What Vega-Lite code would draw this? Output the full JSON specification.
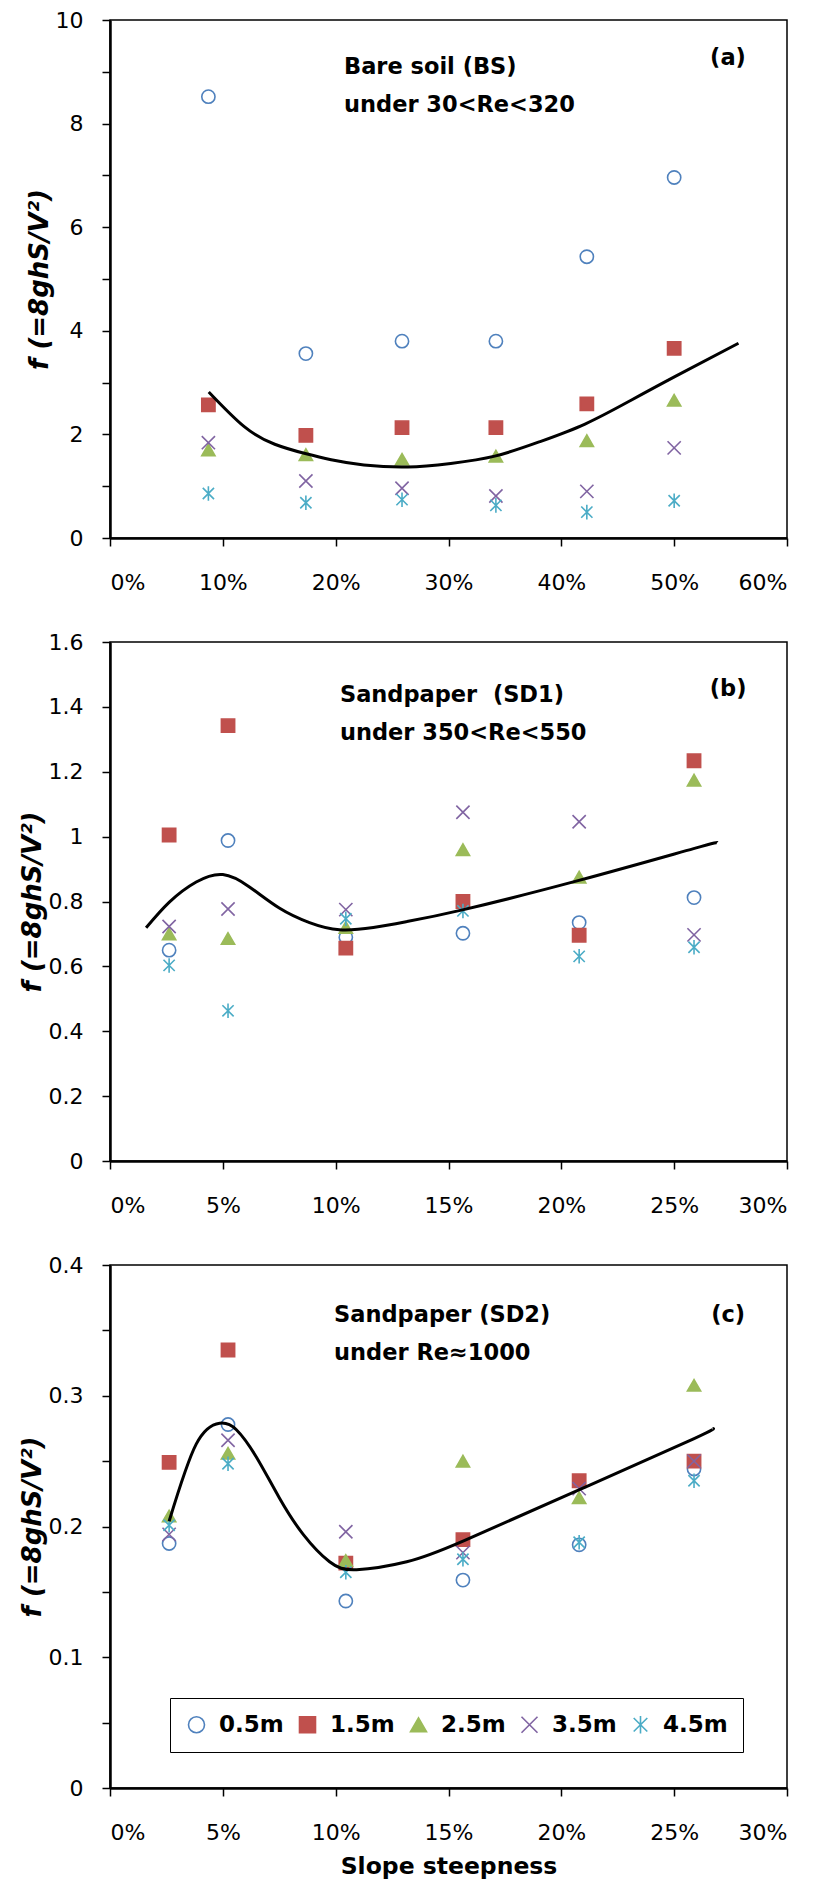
{
  "$schema": "https://vega.github.io/schema/vega-lite/v6.json",
  "background": "white",
  "padding": {"left": 18, "top": 8, "right": 2, "bottom": 4},
  "bounds": "flush",
  "spacing": 104,
  "config": {
    "font": "DejaVu Sans",
    "view": {"stroke": "black", "strokeWidth": 1.5},
    "axis": {
      "domainColor": "black", "domainWidth": 2.5, "tickColor": "black", "tickWidth": 1.5, "tickSize": 8,
      "labelFont": "DejaVu Sans", "labelFontSize": 22, "labelColor": "black", "grid": false,
      "titleFont": "DejaVu Sans", "titleFontSize": 23.5, "titleColor": "black", "titleFontWeight": "bold"
    },
    "axisX": {"labelPadding": 26},
    "axisY": {"labelPadding": 19, "titlePadding": 3, "titleFontStyle": "italic", "titleFontSize": 26},
    "text": {"font": "DejaVu Sans", "fontSize": 22.5, "fontWeight": "bold", "color": "black", "baseline": "middle"}
  },
  "resolve": {"scale": {"x": "independent", "y": "independent", "shape": "independent", "stroke": "independent", "fill": "independent"}, "legend": {"shape": "independent", "stroke": "independent", "fill": "independent"}},
  "datasets": {
    "pts": [
      {"panel":"a","series":"0.5m","slope":0.0872,"f":8.52},{"panel":"a","series":"1.5m","slope":0.0872,"f":2.57},{"panel":"a","series":"2.5m","slope":0.0872,"f":1.70},{"panel":"a","series":"3.5m","slope":0.0872,"f":1.84},{"panel":"a","series":"4.5m","slope":0.0872,"f":0.86},
      {"panel":"a","series":"0.5m","slope":0.1736,"f":3.56},{"panel":"a","series":"1.5m","slope":0.1736,"f":1.98},{"panel":"a","series":"2.5m","slope":0.1736,"f":1.61},{"panel":"a","series":"3.5m","slope":0.1736,"f":1.10},{"panel":"a","series":"4.5m","slope":0.1736,"f":0.68},
      {"panel":"a","series":"0.5m","slope":0.2588,"f":3.80},{"panel":"a","series":"1.5m","slope":0.2588,"f":2.13},{"panel":"a","series":"2.5m","slope":0.2588,"f":1.52},{"panel":"a","series":"3.5m","slope":0.2588,"f":0.96},{"panel":"a","series":"4.5m","slope":0.2588,"f":0.74},
      {"panel":"a","series":"0.5m","slope":0.342,"f":3.80},{"panel":"a","series":"1.5m","slope":0.342,"f":2.13},{"panel":"a","series":"2.5m","slope":0.342,"f":1.58},{"panel":"a","series":"3.5m","slope":0.342,"f":0.81},{"panel":"a","series":"4.5m","slope":0.342,"f":0.63},
      {"panel":"a","series":"0.5m","slope":0.4226,"f":5.43},{"panel":"a","series":"1.5m","slope":0.4226,"f":2.59},{"panel":"a","series":"2.5m","slope":0.4226,"f":1.88},{"panel":"a","series":"3.5m","slope":0.4226,"f":0.90},{"panel":"a","series":"4.5m","slope":0.4226,"f":0.50},
      {"panel":"a","series":"0.5m","slope":0.5,"f":6.96},{"panel":"a","series":"1.5m","slope":0.5,"f":3.66},{"panel":"a","series":"2.5m","slope":0.5,"f":2.66},{"panel":"a","series":"3.5m","slope":0.5,"f":1.74},{"panel":"a","series":"4.5m","slope":0.5,"f":0.72},
      {"panel":"b","series":"0.5m","slope":0.0262,"f":0.65},{"panel":"b","series":"1.5m","slope":0.0262,"f":1.005},{"panel":"b","series":"2.5m","slope":0.0262,"f":0.70},{"panel":"b","series":"3.5m","slope":0.0262,"f":0.723},{"panel":"b","series":"4.5m","slope":0.0262,"f":0.603},
      {"panel":"b","series":"0.5m","slope":0.0523,"f":0.988},{"panel":"b","series":"1.5m","slope":0.0523,"f":1.342},{"panel":"b","series":"2.5m","slope":0.0523,"f":0.686},{"panel":"b","series":"3.5m","slope":0.0523,"f":0.777},{"panel":"b","series":"4.5m","slope":0.0523,"f":0.463},
      {"panel":"b","series":"0.5m","slope":0.1045,"f":0.69},{"panel":"b","series":"1.5m","slope":0.1045,"f":0.656},{"panel":"b","series":"2.5m","slope":0.1045,"f":0.72},{"panel":"b","series":"3.5m","slope":0.1045,"f":0.775},{"panel":"b","series":"4.5m","slope":0.1045,"f":0.747},
      {"panel":"b","series":"0.5m","slope":0.1564,"f":0.702},{"panel":"b","series":"1.5m","slope":0.1564,"f":0.80},{"panel":"b","series":"2.5m","slope":0.1564,"f":0.96},{"panel":"b","series":"3.5m","slope":0.1564,"f":1.075},{"panel":"b","series":"4.5m","slope":0.1564,"f":0.771},
      {"panel":"b","series":"0.5m","slope":0.2079,"f":0.735},{"panel":"b","series":"1.5m","slope":0.2079,"f":0.696},{"panel":"b","series":"2.5m","slope":0.2079,"f":0.875},{"panel":"b","series":"3.5m","slope":0.2079,"f":1.046},{"panel":"b","series":"4.5m","slope":0.2079,"f":0.631},
      {"panel":"b","series":"0.5m","slope":0.2588,"f":0.812},{"panel":"b","series":"1.5m","slope":0.2588,"f":1.234},{"panel":"b","series":"2.5m","slope":0.2588,"f":1.174},{"panel":"b","series":"3.5m","slope":0.2588,"f":0.697},{"panel":"b","series":"4.5m","slope":0.2588,"f":0.659},
      {"panel":"c","series":"0.5m","slope":0.0262,"f":0.187},{"panel":"c","series":"1.5m","slope":0.0262,"f":0.249},{"panel":"c","series":"2.5m","slope":0.0262,"f":0.208},{"panel":"c","series":"3.5m","slope":0.0262,"f":0.194},{"panel":"c","series":"4.5m","slope":0.0262,"f":0.201},
      {"panel":"c","series":"0.5m","slope":0.0523,"f":0.278},{"panel":"c","series":"1.5m","slope":0.0523,"f":0.335},{"panel":"c","series":"2.5m","slope":0.0523,"f":0.256},{"panel":"c","series":"3.5m","slope":0.0523,"f":0.266},{"panel":"c","series":"4.5m","slope":0.0523,"f":0.248},
      {"panel":"c","series":"0.5m","slope":0.1045,"f":0.143},{"panel":"c","series":"1.5m","slope":0.1045,"f":0.172},{"panel":"c","series":"2.5m","slope":0.1045,"f":0.174},{"panel":"c","series":"3.5m","slope":0.1045,"f":0.196},{"panel":"c","series":"4.5m","slope":0.1045,"f":0.165},
      {"panel":"c","series":"0.5m","slope":0.1564,"f":0.159},{"panel":"c","series":"1.5m","slope":0.1564,"f":0.190},{"panel":"c","series":"2.5m","slope":0.1564,"f":0.250},{"panel":"c","series":"3.5m","slope":0.1564,"f":0.180},{"panel":"c","series":"4.5m","slope":0.1564,"f":0.175},
      {"panel":"c","series":"0.5m","slope":0.2079,"f":0.186},{"panel":"c","series":"1.5m","slope":0.2079,"f":0.235},{"panel":"c","series":"2.5m","slope":0.2079,"f":0.222},{"panel":"c","series":"3.5m","slope":0.2079,"f":0.229},{"panel":"c","series":"4.5m","slope":0.2079,"f":0.188},
      {"panel":"c","series":"0.5m","slope":0.2588,"f":0.244},{"panel":"c","series":"1.5m","slope":0.2588,"f":0.250},{"panel":"c","series":"2.5m","slope":0.2588,"f":0.308},{"panel":"c","series":"3.5m","slope":0.2588,"f":0.250},{"panel":"c","series":"4.5m","slope":0.2588,"f":0.235}
    ],
    "fit": [
      {"panel":"a","slope":0.0875,"f":2.82},{"panel":"a","slope":0.119,"f":2.15},{"panel":"a","slope":0.146,"f":1.81},{"panel":"a","slope":0.173,"f":1.63},{"panel":"a","slope":0.196,"f":1.51},{"panel":"a","slope":0.225,"f":1.41},{"panel":"a","slope":0.264,"f":1.37},{"panel":"a","slope":0.302,"f":1.44},{"panel":"a","slope":0.341,"f":1.58},{"panel":"a","slope":0.381,"f":1.86},{"panel":"a","slope":0.421,"f":2.20},{"panel":"a","slope":0.461,"f":2.65},{"panel":"a","slope":0.501,"f":3.12},{"panel":"a","slope":0.557,"f":3.76},
      {"panel":"b","slope":0.016,"f":0.719},{"panel":"b","slope":0.0263,"f":0.798},{"panel":"b","slope":0.0382,"f":0.86},{"panel":"b","slope":0.050,"f":0.883},{"panel":"b","slope":0.0618,"f":0.845},{"panel":"b","slope":0.075,"f":0.78},{"panel":"b","slope":0.0884,"f":0.735},{"panel":"b","slope":0.1017,"f":0.713},{"panel":"b","slope":0.1167,"f":0.72},{"panel":"b","slope":0.1315,"f":0.738},{"panel":"b","slope":0.1567,"f":0.775},{"panel":"b","slope":0.2078,"f":0.865},{"panel":"b","slope":0.2586,"f":0.963},{"panel":"b","slope":0.2692,"f":0.982},
      {"panel":"c","slope":0.0262,"f":0.204},{"panel":"c","slope":0.0382,"f":0.263},{"panel":"c","slope":0.0486,"f":0.279},{"panel":"c","slope":0.056,"f":0.274},{"panel":"c","slope":0.0649,"f":0.253},{"panel":"c","slope":0.075,"f":0.222},{"panel":"c","slope":0.0856,"f":0.194},{"panel":"c","slope":0.0973,"f":0.173},{"panel":"c","slope":0.1093,"f":0.167},{"panel":"c","slope":0.1315,"f":0.173},{"panel":"c","slope":0.1567,"f":0.189},{"panel":"c","slope":0.2078,"f":0.228},{"panel":"c","slope":0.2586,"f":0.267},{"panel":"c","slope":0.267,"f":0.275}
    ],
    "notes": [
      {"panel":"a","slope":0.2074,"f":9.093,"label":"Bare soil (BS)","pos":"left"},
      {"panel":"a","slope":0.2074,"f":8.359,"label":"under 30<Re<320","pos":"left"},
      {"panel":"a","slope":0.5477,"f":9.266,"label":"(a)","pos":"center"},
      {"panel":"b","slope":0.1019,"f":1.437,"label":"Sandpaper\u00a0 (SD1)","pos":"left"},
      {"panel":"b","slope":0.1019,"f":1.3195,"label":"under 350<Re<550","pos":"left"},
      {"panel":"b","slope":0.2739,"f":1.455,"label":"(b)","pos":"center"},
      {"panel":"c","slope":0.0993,"f":0.3615,"label":"Sandpaper (SD2)","pos":"left"},
      {"panel":"c","slope":0.0993,"f":0.3325,"label":"under Re≈1000","pos":"left"},
      {"panel":"c","slope":0.2739,"f":0.3618,"label":"(c)","pos":"center"}
    ]
  },
  "vconcat": [
    {
      "width": 677, "height": 518,
      "layer": [
        {
          "data": {"name": "pts"},
          "transform": [{"filter": "datum.panel == 'a'"}],
          "mark": {"type": "point", "size": 175, "strokeWidth": 1.6, "opacity": 1},
          "encoding": {
            "x": {"field": "slope", "type": "quantitative", "scale": {"domain": [0, 0.6], "nice": false}, "axis": {"values": [0, 0.1, 0.2, 0.3, 0.4, 0.5, 0.6], "format": ".0%", "title": null}},
            "y": {"field": "f", "type": "quantitative", "scale": {"domain": [0, 10], "nice": false}, "axis": {"values": [0, 1, 2, 3, 4, 5, 6, 7, 8, 9, 10], "labelExpr": "datum.value % 2 == 0 ? datum.label : ''", "title": "f (=8ghS/V²)"}},
            "shape": {"field": "series", "type": "nominal", "scale": {"domain": ["0.5m", "1.5m", "2.5m", "3.5m", "4.5m"], "range": ["circle", "square", "triangle-up", "M-1,-1L1,1M-1,1L1,-1", "M-0.85,-0.85L0.85,0.85M-0.85,0.85L0.85,-0.85M0,-1.1L0,1.1"]}, "legend": null},
            "stroke": {"field": "series", "type": "nominal", "scale": {"domain": ["0.5m", "1.5m", "2.5m", "3.5m", "4.5m"], "range": ["#4F81BD", "#C0504D", "#9BBB59", "#8064A2", "#4BACC6"]}, "legend": null},
            "fill": {"field": "series", "type": "nominal", "scale": {"domain": ["0.5m", "1.5m", "2.5m", "3.5m", "4.5m"], "range": ["transparent", "#C0504D", "#9BBB59", "transparent", "transparent"]}, "legend": null}
          }
        },
        {
          "data": {"name": "fit"},
          "transform": [{"filter": "datum.panel == 'a'"}],
          "mark": {"type": "line", "color": "black", "strokeWidth": 3, "interpolate": "natural"},
          "encoding": {"x": {"field": "slope", "type": "quantitative"}, "y": {"field": "f", "type": "quantitative"}}
        },
        {
          "data": {"name": "notes"},
          "transform": [{"filter": "datum.panel == 'a' && datum.pos == 'left'"}],
          "mark": {"type": "text", "align": "left"},
          "encoding": {"x": {"field": "slope", "type": "quantitative"}, "y": {"field": "f", "type": "quantitative"}, "text": {"field": "label"}}
        },
        {
          "data": {"name": "notes"},
          "transform": [{"filter": "datum.panel == 'a' && datum.pos == 'center'"}],
          "mark": {"type": "text", "align": "center"},
          "encoding": {"x": {"field": "slope", "type": "quantitative"}, "y": {"field": "f", "type": "quantitative"}, "text": {"field": "label"}}
        }
      ]
    },
    {
      "width": 677, "height": 519,
      "layer": [
        {
          "data": {"name": "pts"},
          "transform": [{"filter": "datum.panel == 'b'"}],
          "mark": {"type": "point", "size": 175, "strokeWidth": 1.6, "opacity": 1},
          "encoding": {
            "x": {"field": "slope", "type": "quantitative", "scale": {"domain": [0, 0.3], "nice": false}, "axis": {"values": [0, 0.05, 0.1, 0.15, 0.2, 0.25, 0.3], "format": ".0%", "title": null}},
            "y": {"field": "f", "type": "quantitative", "scale": {"domain": [0, 1.6], "nice": false}, "axis": {"values": [0, 0.2, 0.4, 0.6, 0.8, 1, 1.2, 1.4, 1.6], "format": ".1~f", "title": "f (=8ghS/V²)"}},
            "shape": {"field": "series", "type": "nominal", "scale": {"domain": ["0.5m", "1.5m", "2.5m", "3.5m", "4.5m"], "range": ["circle", "square", "triangle-up", "M-1,-1L1,1M-1,1L1,-1", "M-0.85,-0.85L0.85,0.85M-0.85,0.85L0.85,-0.85M0,-1.1L0,1.1"]}, "legend": null},
            "stroke": {"field": "series", "type": "nominal", "scale": {"domain": ["0.5m", "1.5m", "2.5m", "3.5m", "4.5m"], "range": ["#4F81BD", "#C0504D", "#9BBB59", "#8064A2", "#4BACC6"]}, "legend": null},
            "fill": {"field": "series", "type": "nominal", "scale": {"domain": ["0.5m", "1.5m", "2.5m", "3.5m", "4.5m"], "range": ["transparent", "#C0504D", "#9BBB59", "transparent", "transparent"]}, "legend": null}
          }
        },
        {
          "data": {"name": "fit"},
          "transform": [{"filter": "datum.panel == 'b'"}],
          "mark": {"type": "line", "color": "black", "strokeWidth": 3, "interpolate": "natural"},
          "encoding": {"x": {"field": "slope", "type": "quantitative"}, "y": {"field": "f", "type": "quantitative"}}
        },
        {
          "data": {"name": "notes"},
          "transform": [{"filter": "datum.panel == 'b' && datum.pos == 'left'"}],
          "mark": {"type": "text", "align": "left"},
          "encoding": {"x": {"field": "slope", "type": "quantitative"}, "y": {"field": "f", "type": "quantitative"}, "text": {"field": "label"}}
        },
        {
          "data": {"name": "notes"},
          "transform": [{"filter": "datum.panel == 'b' && datum.pos == 'center'"}],
          "mark": {"type": "text", "align": "center"},
          "encoding": {"x": {"field": "slope", "type": "quantitative"}, "y": {"field": "f", "type": "quantitative"}, "text": {"field": "label"}}
        }
      ]
    },
    {
      "width": 677, "height": 523,
      "layer": [
        {
          "data": {"name": "pts"},
          "transform": [{"filter": "datum.panel == 'c'"}],
          "mark": {"type": "point", "size": 175, "strokeWidth": 1.6, "opacity": 1},
          "encoding": {
            "x": {"field": "slope", "type": "quantitative", "scale": {"domain": [0, 0.3], "nice": false}, "axis": {"values": [0, 0.05, 0.1, 0.15, 0.2, 0.25, 0.3], "format": ".0%", "title": "Slope steepness", "titleFontStyle": "normal", "titlePadding": 11}},
            "y": {"field": "f", "type": "quantitative", "scale": {"domain": [0, 0.4], "nice": false}, "axis": {"values": [0, 0.05, 0.1, 0.15, 0.2, 0.25, 0.3, 0.35, 0.4], "format": ".1~f", "labelExpr": "round(datum.value * 100) % 10 == 0 ? datum.label : ''", "title": "f (=8ghS/V²)"}},
            "shape": {"field": "series", "type": "nominal", "scale": {"domain": ["0.5m", "1.5m", "2.5m", "3.5m", "4.5m"], "range": ["circle", "square", "triangle-up", "M-1,-1L1,1M-1,1L1,-1", "M-0.85,-0.85L0.85,0.85M-0.85,0.85L0.85,-0.85M0,-1.1L0,1.1"]},
              "legend": {"title": null, "orient": "none", "legendX": 60, "legendY": 433, "direction": "horizontal", "columns": 5, "labelFontSize": 23, "labelFontWeight": "bold", "labelFont": "DejaVu Sans", "labelColor": "black", "symbolSize": 256, "symbolStrokeWidth": 1.6, "labelOffset": 11, "columnPadding": 12, "padding": 15, "strokeColor": "black", "fillColor": "white"}},
            "stroke": {"field": "series", "type": "nominal", "scale": {"domain": ["0.5m", "1.5m", "2.5m", "3.5m", "4.5m"], "range": ["#4F81BD", "#C0504D", "#9BBB59", "#8064A2", "#4BACC6"]},
              "legend": {"title": null, "orient": "none", "legendX": 60, "legendY": 433, "direction": "horizontal", "columns": 5, "labelFontSize": 23, "labelFontWeight": "bold", "labelFont": "DejaVu Sans", "labelColor": "black", "symbolSize": 256, "symbolStrokeWidth": 1.6, "labelOffset": 11, "columnPadding": 12, "padding": 15, "strokeColor": "black", "fillColor": "white"}},
            "fill": {"field": "series", "type": "nominal", "scale": {"domain": ["0.5m", "1.5m", "2.5m", "3.5m", "4.5m"], "range": ["transparent", "#C0504D", "#9BBB59", "transparent", "transparent"]},
              "legend": {"title": null, "orient": "none", "legendX": 60, "legendY": 433, "direction": "horizontal", "columns": 5, "labelFontSize": 23, "labelFontWeight": "bold", "labelFont": "DejaVu Sans", "labelColor": "black", "symbolSize": 256, "symbolStrokeWidth": 1.6, "labelOffset": 11, "columnPadding": 12, "padding": 15, "strokeColor": "black", "fillColor": "white"}}
          }
        },
        {
          "data": {"name": "fit"},
          "transform": [{"filter": "datum.panel == 'c'"}],
          "mark": {"type": "line", "color": "black", "strokeWidth": 3, "interpolate": "natural"},
          "encoding": {"x": {"field": "slope", "type": "quantitative"}, "y": {"field": "f", "type": "quantitative"}}
        },
        {
          "data": {"name": "notes"},
          "transform": [{"filter": "datum.panel == 'c' && datum.pos == 'left'"}],
          "mark": {"type": "text", "align": "left"},
          "encoding": {"x": {"field": "slope", "type": "quantitative"}, "y": {"field": "f", "type": "quantitative"}, "text": {"field": "label"}}
        },
        {
          "data": {"name": "notes"},
          "transform": [{"filter": "datum.panel == 'c' && datum.pos == 'center'"}],
          "mark": {"type": "text", "align": "center"},
          "encoding": {"x": {"field": "slope", "type": "quantitative"}, "y": {"field": "f", "type": "quantitative"}, "text": {"field": "label"}}
        }
      ]
    }
  ]
}
